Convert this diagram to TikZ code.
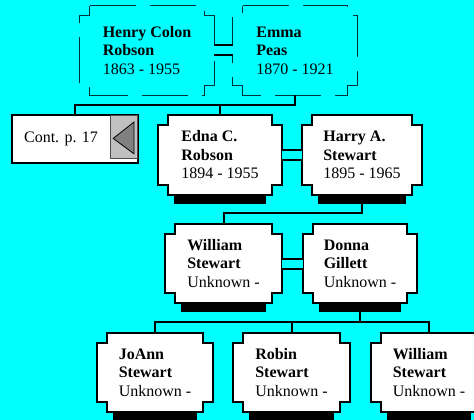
\documentclass[tikz,border=0pt]{standalone}
\usepackage{fontspec}
\setmainfont{Liberation Serif}
\usetikzlibrary{backgrounds}

\definecolor{paper}{RGB}{0,255,255}
\definecolor{btngray}{RGB}{192,192,192}
\definecolor{arrowgray}{RGB}{128,128,128}

% card outline with square notches in the corners
\newcommand{\notchframe}[2][]{%
  \draw[#1] ([xshift=10pt]#2.north west) -- ([xshift=-10pt]#2.north east)
    -- ([xshift=-10pt,yshift=-10pt]#2.north east) -- ([yshift=-10pt]#2.north east)
    -- ([yshift=10pt]#2.south east) -- ([xshift=-10pt,yshift=10pt]#2.south east)
    -- ([xshift=-10pt]#2.south east) -- ([xshift=10pt]#2.south west)
    -- ([xshift=10pt,yshift=10pt]#2.south west) -- ([yshift=10pt]#2.south west)
    -- ([yshift=-10pt]#2.north west) -- ([xshift=10pt,yshift=-10pt]#2.north west)
    -- cycle;}
\newcommand{\cardshadow}[1]{%
  \fill ([xshift=16pt]#1.south west) rectangle ([xshift=-16pt,yshift=-9pt]#1.south east);}

\begin{document}
\begin{tikzpicture}[
x=1pt, y=-1pt,
card/.style={minimum height=80pt, align=left, inner sep=0pt, font=\fontsize{16}{18.5}\selectfont},
frame/.style={line width=2pt, fill=white},
oldframe/.style={line width=1pt, draw=black!80!paper, dash pattern=on 46pt off 14pt},
link/.style={line width=2pt},
couple/.style={line width=2pt, double=paper, double distance=8pt} ]

\useasboundingbox (0,0) rectangle (474,420);

% grandparents
\node[card, minimum width=134pt, minimum height=89pt] (henry) at (147,50.5) {\textbf{Henry Colon}\\\textbf{Robson}\\1863 - 1955};
\node[card, minimum width=124pt, minimum height=89pt] (emma) at (295,50.5) {\textbf{Emma}\\\textbf{Peas}\\1870 - 1921};

% parents
\node[minimum width=126pt, minimum height=48pt, draw, line width=2pt, fill=white, inner sep=0pt,
  font=\fontsize{16}{18.5}\selectfont] (cont) at (75,139) {Cont. p. 17\rule{28pt}{0pt}};
\node[anchor=north east, minimum width=27pt, minimum height=43pt, inner sep=0pt,
  fill=btngray, draw=black!70, line width=0.8pt] (btn) at ([xshift=-1pt,yshift=-1pt]cont.north east) {};
\node[card, minimum width=124pt] (edna) at (220,155) {\textbf{Edna C.}\\\textbf{Robson}\\1894 - 1955};
\node[card, minimum width=120pt] (harry) at (362,155) {\textbf{Harry A.}\\\textbf{Stewart}\\1895 - 1965};

% next generation
\node[card, minimum width=117pt, minimum height=79pt] (william) at (223.5,263.5) {\textbf{William}\\\textbf{Stewart}\\Unknown -};
\node[card, minimum width=114pt, minimum height=79pt] (donna) at (360,263.5) {\textbf{Donna}\\\textbf{Gillett}\\Unknown -};

% children
\node[card, minimum width=116pt, minimum height=79pt] (joann) at (155,372.5) {\textbf{JoAnn}\\\textbf{Stewart}\\Unknown -};
\node[card, minimum width=117pt, minimum height=79pt] (robin) at (291.5,372.5) {\textbf{Robin}\\\textbf{Stewart}\\Unknown -};
\node[card, minimum width=116pt, minimum height=79pt] (wmjr) at (429,372.5) {\textbf{William}\\\textbf{Stewart}\\Unknown -};

\begin{scope}[on background layer]
\fill[paper] (0,0) rectangle (474,420);
\cardshadow{edna} \cardshadow{harry} \cardshadow{william} \cardshadow{donna}
\cardshadow{joann} \cardshadow{robin} \cardshadow{wmjr}
\notchframe[frame]{edna} \notchframe[frame]{harry}
\notchframe[frame]{william} \notchframe[frame]{donna}
\notchframe[frame]{joann} \notchframe[frame]{robin} \notchframe[frame]{wmjr}
\notchframe[oldframe]{henry} \notchframe[oldframe]{emma}
\end{scope}

\draw[fill=arrowgray, line width=0.8pt] ([xshift=3pt,yshift=-1.5pt]btn.west) -- ([xshift=-4pt,yshift=-7pt]btn.north east) -- ([xshift=-4pt,yshift=5pt]btn.south east) -- cycle;

% couples
\draw[couple] (henry) -- (emma);
\draw[couple] (edna) -- (harry);
\draw[couple] (william) -- (donna);

% descent lines
\coordinate (gen1) at ([yshift=-10pt]emma.south);
\draw[link] (emma.south) -- (gen1) -| (cont.north);
\draw[link] (edna.north) -- (edna.north |- gen1);

\coordinate (gen2) at ([yshift=-18pt]harry.south);
\draw[link] ([yshift=-9pt]harry.south) -- (gen2) -| (william.north);

\coordinate (gen3) at ([yshift=-19pt]donna.south);
\draw[link] ([yshift=-9pt]donna.south) -- (gen3);
\draw[link] (joann.north) |- (gen3) -| (wmjr.north);
\draw[link] (robin.north) -- (robin.north |- gen3);

\end{tikzpicture}
\end{document}
